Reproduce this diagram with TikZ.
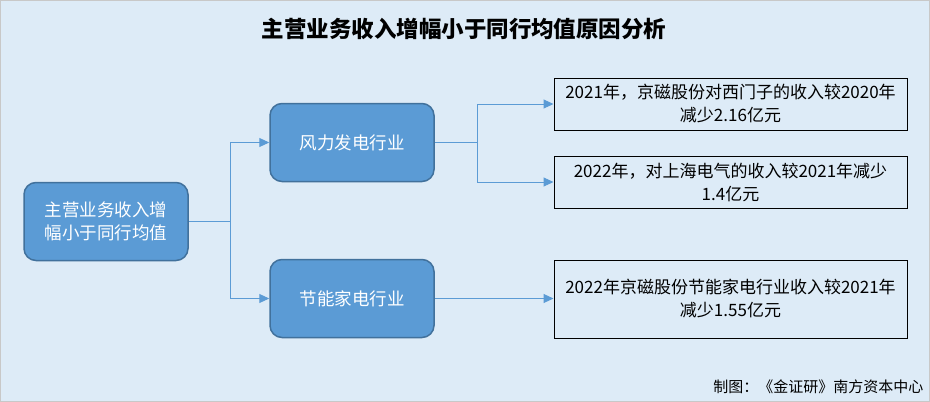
\documentclass[tikz,border=0pt]{standalone}
\usepackage{fontspec}
\setmainfont{Noto Sans CJK SC}
\usetikzlibrary{arrows.meta}
\definecolor{bgc}{HTML}{DDEBF7}
\definecolor{boxfill}{HTML}{5B9BD5}
\definecolor{boxline}{HTML}{41719C}
\definecolor{linec}{HTML}{5B9BD5}
\definecolor{framec}{HTML}{C8C8C8}
\tikzset{
  bluebox/.style={draw=boxline, line width=1.5pt, fill=boxfill, rounded corners=12pt,
    text=white, font=\fontsize{17.5}{23.5}\selectfont, align=center,
    minimum width=164pt, minimum height=78pt, inner sep=0pt},
  notebox/.style={draw=black, line width=1pt, align=center, text=black,
    font=\fontsize{17}{23}\selectfont, minimum width=353pt, inner sep=0pt},
  conn/.style={draw=linec, line width=1pt},
  arr/.style={conn, -{Triangle[length=10pt,width=9pt]}}
}
\begin{document}
\begin{tikzpicture}[x=1pt,y=-1pt]
\useasboundingbox (0,0) rectangle (930,402);
\fill[bgc] (0,0) rectangle (930,402);
\draw[framec, line width=2pt] (0,0) rectangle (930,402);
\node[font=\fontsize{22.5}{24}\selectfont\bfseries] (title) at (464,29) {主营业务收入增幅小于同行均值原因分析};
\node[bluebox] (root) at (106,221.5) {主营业务收入增\\幅小于同行均值};
\node[bluebox] (wind) at (352,142.5) {风力发电行业};
\node[bluebox] (save) at (352,298.5) {节能家电行业};
\node[notebox, minimum height=52pt] (n1) at (730.5,104) {2021年，京磁股份对西门子的收入较2020年\\减少2.16亿元};
\node[notebox, minimum height=52pt] (n2) at (730.5,182) {2022年，对上海电气的收入较2021年减少\\1.4亿元};
\node[notebox, minimum height=78pt] (n3) at (730.5,299) {2022年京磁股份节能家电行业收入较2021年\\减少1.55亿元};
\coordinate (j1) at (230,0);
\coordinate (j2) at (477,0);
\draw[conn] (root.east) -- (root.east -| j1);
\draw[arr] (root.east -| j1) |- (wind.west);
\draw[arr] (root.east -| j1) |- (save.west);
\draw[conn] (wind.east) -- (wind.east -| j2);
\draw[arr] (wind.east -| j2) |- (n1.west);
\draw[arr] (wind.east -| j2) |- (n2.west);
\draw[arr] (save.east) -- (save.east -| n3.west);
\node[anchor=east, font=\fontsize{15}{16}\selectfont] (foot) at (927,387) {制图：《金证研》南方资本中心};
\end{tikzpicture}
\end{document}
